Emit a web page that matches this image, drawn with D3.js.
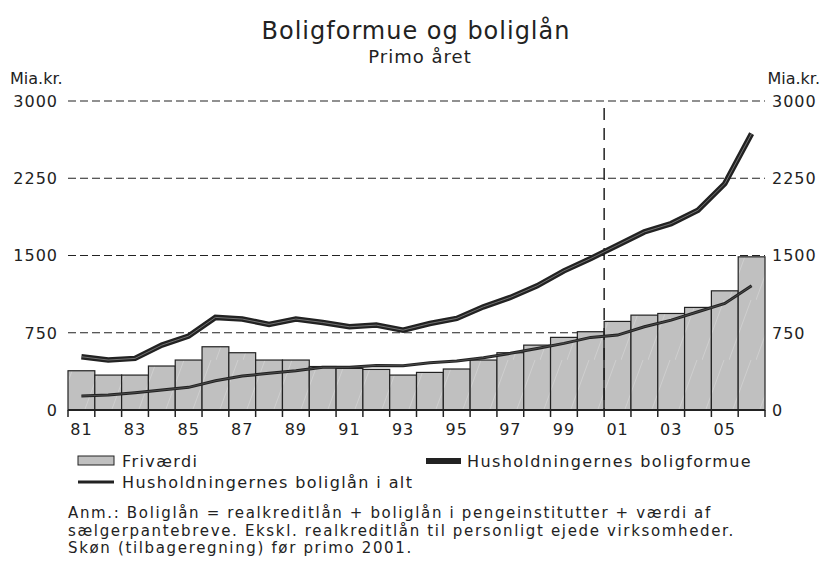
<!DOCTYPE html>
<html><head><meta charset="utf-8">
<script src="https://cdn.jsdelivr.net/npm/d3@7/dist/d3.min.js"></script>
<style>body{margin:0;background:#fff}svg{display:block}text{font-family:"DejaVu Sans",Verdana,sans-serif;fill:#222}</style>
</head><body><svg id="c" width="824" height="561"></svg>
<script>
const years = ["81","82","83","84","85","86","87","88","89","90","91","92","93","94","95","96","97","98","99","00","01","02","03","04","05","06"];
const friv = [381,339,339,427,485,614,556,485,485,422,404,394,339,365,398,485,556,630,705,760,860,921,937,996,1157,1487];
const formue = [517,485,501,630,718,899,883,831,883,850,808,824,775,840,889,1002,1093,1206,1351,1471,1600,1729,1810,1940,2198,2683];
const laan = [136,145,168,194,220,284,330,356,381,414,414,433,430,459,475,508,550,598,647,705,727,808,873,954,1034,1206];
const yTicks = [0,750,1500,2250,3000];
const xLabels = ["81","83","85","87","89","91","93","95","97","99","01","03","05"];
const title = "Boligformue og boliglån", subtitle = "Primo året", unit = "Mia.kr.";
const legendNames = ["Friværdi","Husholdningernes boligformue","Husholdningernes boliglån i alt"];
const notes = ["Anm.: Boliglån = realkreditlån + boliglån i pengeinstitutter + værdi af","sælgerpantebreve. Ekskl. realkreditlån til personligt ejede virksomheder.","Skøn (tilbageregning) før primo 2001."];

const svg = d3.select("#c");
const L=68,R=765,T=101,B=410;
const x = d3.scaleBand().domain(years).range([L,R]).padding(0);
const y = d3.scaleLinear().domain([0,3000]).range([B,T]);
const cx = d=>x(d)+x.bandwidth()/2;

const defs = svg.append("defs");
const pat = defs.append("pattern").attr("id","hatch").attr("patternUnits","userSpaceOnUse").attr("width",27).attr("height",60);
pat.append("rect").attr("width",27).attr("height",60).attr("fill","#c0c0c0");
pat.append("line").attr("x1",0).attr("y1",60).attr("x2",22).attr("y2",0).attr("stroke","#cfcfcf").attr("stroke-width",1);

// title
svg.append("text").attr("x",416).attr("y",39).attr("text-anchor","middle").style("font-size","24px").style("letter-spacing","1px").text(title);
svg.append("text").attr("x",420).attr("y",63).attr("text-anchor","middle").style("font-size","18px").style("letter-spacing","1px").text(subtitle);
svg.append("text").attr("x",10).attr("y",84).style("font-size","16px").text(unit);
svg.append("text").attr("x",820).attr("y",84).attr("text-anchor","end").style("font-size","16px").text(unit);

// gridlines
svg.append("g").selectAll("line").data(yTicks.filter(d=>d>0)).join("line")
  .attr("x1",L).attr("x2",R).attr("y1",d=>y(d)).attr("y2",d=>y(d))
  .attr("stroke","#222").attr("stroke-width",1.2).attr("stroke-dasharray","8,4");

// y labels
const yl = svg.append("g").style("font-size","16px");
yl.selectAll("text.l").data(yTicks).join("text").attr("class","l").attr("x",58).attr("y",d=>y(d)).attr("dy","0.36em").attr("text-anchor","end").style("letter-spacing","1px").text(d=>d);
yl.selectAll("text.r").data(yTicks).join("text").attr("class","r").attr("x",772).attr("y",d=>y(d)).attr("dy","0.36em").style("letter-spacing","1px").text(d=>d);

// bars
svg.append("g").selectAll("rect").data(years).join("rect")
  .attr("x",d=>x(d)).attr("width",x.bandwidth()).attr("y",(d,i)=>y(friv[i])).attr("height",(d,i)=>B-y(friv[i]))
  .attr("fill","url(#hatch)").attr("stroke","#222").attr("stroke-width",1.2);

// vertical dashed line
svg.append("line").attr("x1",x("01")).attr("x2",x("01")).attr("y1",108).attr("y2",B)
  .attr("stroke","#222").attr("stroke-width",1.5).attr("stroke-dasharray","12,8");

// axis
const xa = svg.append("g").attr("transform",`translate(0,${B})`);
xa.append("line").attr("x1",L).attr("x2",R).attr("stroke","#222").attr("stroke-width",2);
xa.selectAll("line.t").data(d3.range(years.length+1)).join("line").attr("class","t")
  .attr("x1",i=>L+i*x.bandwidth()).attr("x2",i=>L+i*x.bandwidth()).attr("y1",0).attr("y2",7).attr("stroke","#222").attr("stroke-width",1.5);
xa.selectAll("text").data(xLabels).join("text").attr("x",d=>cx(d)).attr("y",25).attr("text-anchor","middle").style("font-size","16px").style("letter-spacing","1px").text(d=>d);

// lines
const line = d3.line().x((d,i)=>cx(years[i])).y(d=>y(d));
svg.append("path").datum(laan).attr("d",line).attr("fill","none").attr("stroke","#222").attr("stroke-width",3);
svg.append("path").datum(laan).attr("d",line).attr("fill","none").attr("stroke","#666").attr("stroke-width",0.6);
svg.append("path").datum(formue).attr("d",line).attr("fill","none").attr("stroke","#222").attr("stroke-width",5.5);
svg.append("path").datum(formue).attr("d",line).attr("fill","none").attr("stroke","#888").attr("stroke-width",0.8);

// legend
const lg = svg.append("g").style("font-size","16px").style("letter-spacing","1.4px");
lg.append("rect").attr("x",78).attr("y",456).attr("width",36).attr("height",9).attr("fill","#c0c0c0").attr("stroke","#222").attr("stroke-width",1);
lg.append("text").attr("x",122).attr("y",467).text(legendNames[0]);
lg.append("rect").attr("x",426).attr("y",458).attr("width",35).attr("height",6).attr("fill","#222");
lg.append("text").attr("x",467).attr("y",467).text(legendNames[1]);
lg.append("line").attr("x1",78).attr("x2",114).attr("y1",482).attr("y2",482).attr("stroke","#222").attr("stroke-width",3);
lg.append("text").attr("x",122).attr("y",488).text(legendNames[2]);

svg.append("g").style("font-size","15px").style("letter-spacing","1.65px").selectAll("text").data(notes).join("text")
  .attr("x",68).attr("y",(d,i)=>518+i*17.6).text(d=>d);
</script></body></html>
